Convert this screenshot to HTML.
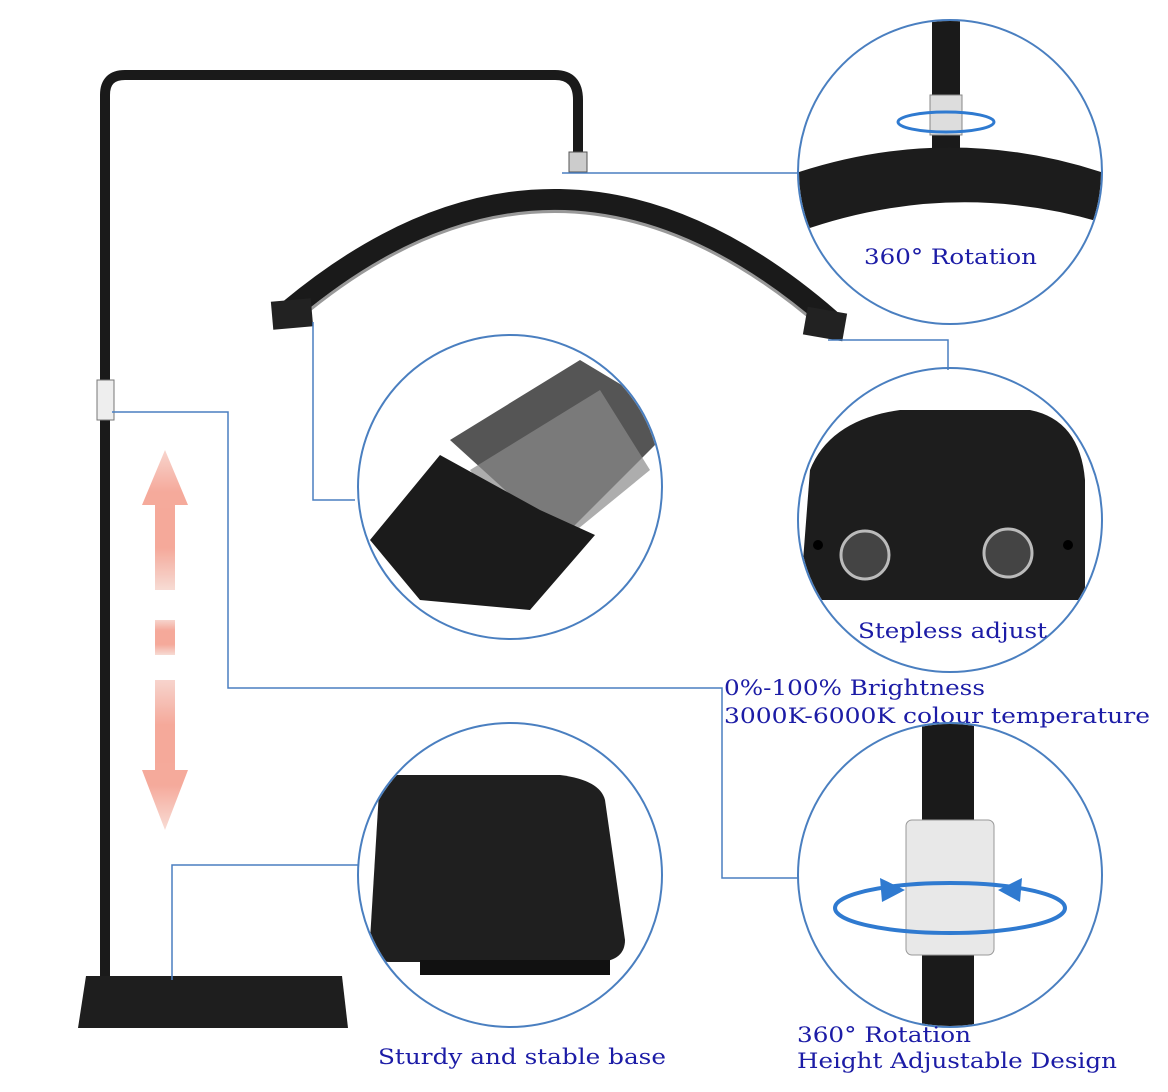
<!DOCTYPE html>
<html><head><meta charset="utf-8"><style>
html,body{margin:0;padding:0;background:#fff;}
svg{display:block;}
text{font-family:"DejaVu Serif","Liberation Serif",serif;fill:#1c1ca6;font-size:21px;}
</style></head><body>
<svg width="1168" height="1092" viewBox="0 0 1168 1092" xmlns="http://www.w3.org/2000/svg">
<defs>
<clipPath id="c1"><circle cx="950" cy="172" r="151"/></clipPath>
<clipPath id="c2"><circle cx="510" cy="487" r="151"/></clipPath>
<clipPath id="c3"><circle cx="950" cy="520" r="151"/></clipPath>
<clipPath id="c4"><circle cx="510" cy="875" r="151"/></clipPath>
<clipPath id="c5"><circle cx="950" cy="875" r="151"/></clipPath>
<linearGradient id="pink" x1="0" y1="0" x2="0" y2="1">
<stop offset="0" stop-color="#f7d0c8"/><stop offset="0.3" stop-color="#f4a090"/><stop offset="0.7" stop-color="#f4a090"/><stop offset="1" stop-color="#f7d8d0"/></linearGradient>
</defs>

<path d="M105 1000 V95 Q105 75 125 75 H555 Q578 75 578 100 V155" fill="none" stroke="#1a1a1a" stroke-width="10"/>
<rect x="569" y="152" width="18" height="20" fill="#ccc" stroke="#555"/>
<rect x="97" y="380" width="17" height="40" fill="#eee" stroke="#777"/>
<path d="M290 310 Q560 85 830 320" fill="none" stroke="#1a1a1a" stroke-width="22"/>
<path d="M300 318 Q560 100 822 328" fill="none" stroke="#999" stroke-width="3"/>
<rect x="272" y="300" width="40" height="28" fill="#222" transform="rotate(-5 292 314)"/>
<rect x="805" y="310" width="40" height="28" fill="#222" transform="rotate(10 825 324)"/>
<path d="M86 976 H342 L348 1028 H78 Z" fill="#1e1e1e"/>
<g fill="url(#pink)" opacity="0.9">
<polygon points="165,450 142,505 155,505 155,590 175,590 175,505 188,505"/>
<rect x="155" y="620" width="20" height="35"/>
<polygon points="165,830 142,770 155,770 155,680 175,680 175,770 188,770"/>
</g>

<g fill="none" stroke="#4a7fc0" stroke-width="1.5">
<polyline points="562,173 800,173"/>
<polyline points="313,322 313,500 355,500"/>
<polyline points="828,340 948,340 948,370"/>
<polyline points="112,412 228,412 228,688 722,688 722,878 798,878"/>
<polyline points="172,980 172,865 358,865"/>
</g>

<g clip-path="url(#c1)">
<rect x="932" y="20" width="28" height="130" fill="#1a1a1a"/>
<rect x="930" y="95" width="32" height="40" fill="#ddd" stroke="#888"/>
<path d="M790 175 Q950 120 1110 175 L1110 225 Q950 175 790 235 Z" fill="#1c1c1c"/>
<ellipse cx="946" cy="122" rx="48" ry="10" fill="none" stroke="#2f7ad0" stroke-width="3"/>
</g>
<circle cx="950" cy="172" r="152" fill="none" stroke="#4a7fc0" stroke-width="2"/>
<text x="864" y="264" textLength="173" lengthAdjust="spacingAndGlyphs">360° Rotation</text>

<g clip-path="url(#c2)">
<polygon points="450,440 580,360 680,420 560,540" fill="#555"/>
<polygon points="470,470 600,390 650,470 540,560" fill="#8a8a8a" opacity="0.7"/>
<polygon points="370,540 440,455 540,510 595,535 530,610 420,600" fill="#1b1b1b"/>
</g>
<circle cx="510" cy="487" r="152" fill="none" stroke="#4a7fc0" stroke-width="2"/>

<g clip-path="url(#c3)">
<path d="M810 470 Q830 420 900 410 H1030 Q1080 420 1085 480 V600 H800 Z" fill="#1d1d1d"/>
<circle cx="865" cy="555" r="24" fill="#444" stroke="#bbb" stroke-width="3"/>
<circle cx="1008" cy="553" r="24" fill="#444" stroke="#bbb" stroke-width="3"/>
<circle cx="818" cy="545" r="5" fill="#000"/>
<circle cx="1068" cy="545" r="5" fill="#000"/>
</g>
<circle cx="950" cy="520" r="152" fill="none" stroke="#4a7fc0" stroke-width="2"/>
<text x="858" y="638" textLength="189" lengthAdjust="spacingAndGlyphs">Stepless adjust</text>

<text x="724" y="695" textLength="261" lengthAdjust="spacingAndGlyphs">0%-100% Brightness</text>
<text x="724" y="723" textLength="426" lengthAdjust="spacingAndGlyphs">3000K-6000K colour temperature</text>

<g clip-path="url(#c4)">
<path d="M380 775 H560 Q600 780 605 800 L625 940 Q625 960 600 962 H390 Q370 962 370 940 Z" fill="#1f1f1f"/>
<rect x="420" y="960" width="190" height="15" fill="#111"/>
</g>
<circle cx="510" cy="875" r="152" fill="none" stroke="#4a7fc0" stroke-width="2"/>
<text x="378" y="1064" textLength="288" lengthAdjust="spacingAndGlyphs">Sturdy and stable base</text>

<g clip-path="url(#c5)">
<rect x="922" y="720" width="52" height="320" fill="#1a1a1a"/>
<rect x="906" y="820" width="88" height="135" rx="6" fill="#e8e8e8" stroke="#999"/>
<ellipse cx="950" cy="908" rx="115" ry="25" fill="none" stroke="#2f7ad0" stroke-width="4"/>
<polygon points="905,890 880,878 882,902" fill="#2f7ad0"/>
<polygon points="998,890 1022,878 1020,902" fill="#2f7ad0"/>
</g>
<circle cx="950" cy="875" r="152" fill="none" stroke="#4a7fc0" stroke-width="2"/>
<text x="797" y="1042" textLength="174" lengthAdjust="spacingAndGlyphs">360° Rotation</text>
<text x="797" y="1068" textLength="320" lengthAdjust="spacingAndGlyphs">Height Adjustable Design</text>
</svg>
</body></html>
